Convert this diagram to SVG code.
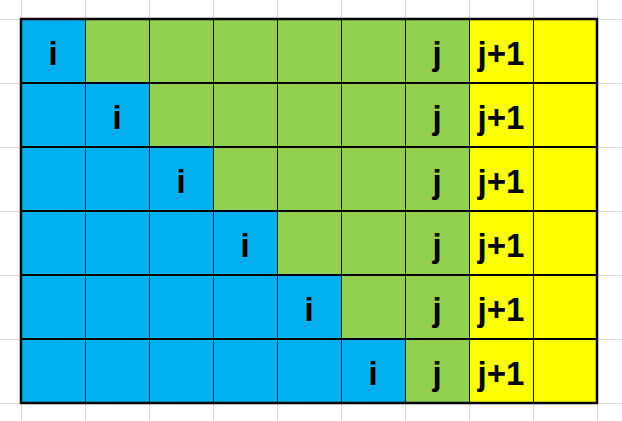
<svg xmlns="http://www.w3.org/2000/svg" width="622" height="421" viewBox="0 0 622 421">
<style>
.bg{stroke:#DADADA;stroke-width:1}
.b{fill:#00B0F0}.g{fill:#92D050}.y{fill:#FFFF00}
.t{font-family:"Liberation Sans",Arial,sans-serif;font-size:33px;font-weight:bold;text-anchor:middle;fill:#000}
.v{stroke:#000;stroke-width:1}
.h{stroke:#000;stroke-width:2}
</style>
<rect width="622" height="421" fill="#fff"/>
<g id="sheet-grid" class="bg">
<path d="M21.5 0V421M85.5 0V421M149.5 0V421M213.5 0V421M277.5 0V421M341.5 0V421M405.5 0V421M469.5 0V421M533.5 0V421M597.5 0V421"/>
<path d="M0 19.5H622M0 83.5H622M0 147.5H622M0 211.5H622M0 275.5H622M0 339.5H622M0 403.5H622"/>
</g>
<g id="row1">
<rect class="b" x="21" y="19" width="64" height="64"/>
<rect class="g" x="85" y="19" width="384" height="64"/>
<rect class="y" x="469" y="19" width="128" height="64"/>
<text class="t" x="53" y="65">i</text><text class="t" x="437" y="65">j</text><text class="t" x="501" y="65">j+1</text>
</g>
<g id="row2">
<rect class="b" x="21" y="83" width="128" height="64"/>
<rect class="g" x="149" y="83" width="320" height="64"/>
<rect class="y" x="469" y="83" width="128" height="64"/>
<text class="t" x="117" y="129">i</text><text class="t" x="437" y="129">j</text><text class="t" x="501" y="129">j+1</text>
</g>
<g id="row3">
<rect class="b" x="21" y="147" width="192" height="64"/>
<rect class="g" x="213" y="147" width="256" height="64"/>
<rect class="y" x="469" y="147" width="128" height="64"/>
<text class="t" x="181" y="193">i</text><text class="t" x="437" y="193">j</text><text class="t" x="501" y="193">j+1</text>
</g>
<g id="row4">
<rect class="b" x="21" y="211" width="256" height="64"/>
<rect class="g" x="277" y="211" width="192" height="64"/>
<rect class="y" x="469" y="211" width="128" height="64"/>
<text class="t" x="245" y="257">i</text><text class="t" x="437" y="257">j</text><text class="t" x="501" y="257">j+1</text>
</g>
<g id="row5">
<rect class="b" x="21" y="275" width="320" height="64"/>
<rect class="g" x="341" y="275" width="128" height="64"/>
<rect class="y" x="469" y="275" width="128" height="64"/>
<text class="t" x="309" y="321">i</text><text class="t" x="437" y="321">j</text><text class="t" x="501" y="321">j+1</text>
</g>
<g id="row6">
<rect class="b" x="21" y="339" width="384" height="64"/>
<rect class="g" x="405" y="339" width="64" height="64"/>
<rect class="y" x="469" y="339" width="128" height="64"/>
<text class="t" x="373" y="385">i</text><text class="t" x="437" y="385">j</text><text class="t" x="501" y="385">j+1</text>
</g>
<g id="borders" fill="none">
<path class="v" d="M85.5 19V403M149.5 19V403M213.5 19V403M277.5 19V403M341.5 19V403M405.5 19V403M469.5 19V403M533.5 19V403"/>
<path class="h" d="M21 83H597M21 147H597M21 211H597M21 275H597M21 339H597"/>
<rect x="21" y="19" width="576" height="384" stroke="#000" stroke-width="2.5"/>
</g>
</svg>
